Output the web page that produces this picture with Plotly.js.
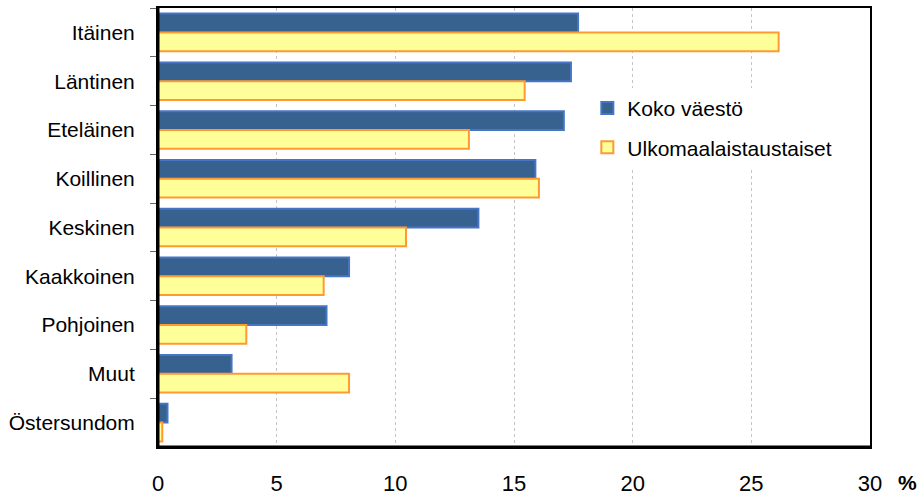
<!DOCTYPE html>
<html>
<head>
<meta charset="utf-8">
<script src="https://cdn.plot.ly/plotly-3.0.1.min.js"></script>
<style>html,body{margin:0;padding:0;background:#fff;}#chart{width:919px;height:498px;}</style>
</head>
<body>
<div id="chart"></div>
<script>
const categories = ["Itäinen","Läntinen","Eteläinen","Koillinen","Keskinen","Kaakkoinen","Pohjoinen","Muut","Östersundom"];
const kokoVaesto = [17.7, 17.4, 17.1, 15.9, 13.5, 8.05, 7.1, 3.1, 0.4];
const ulkomaalais = [26.15, 15.45, 13.1, 16.05, 10.45, 6.98, 3.72, 8.05, 0.18];
const seriesNames = ["Koko väestö", "Ulkomaalaistaustaiset"];
const xTicks = [0, 5, 10, 15, 20, 25, 30];

const font = "Liberation Sans, Arial, sans-serif";

const traces = [
  {
    type: "bar", orientation: "h", name: seriesNames[0],
    y: categories, x: kokoVaesto, legendgroup: "a",
    marker: {color: "#37618F", line: {color: "#4675C6", width: 2}}
  },
  {
    type: "bar", orientation: "h", name: seriesNames[1],
    y: categories, x: ulkomaalais, legendgroup: "b",
    marker: {color: "#FFFF99", line: {color: "#FF9A33", width: 2}}
  }
];

const layout = {
  width: 919, height: 498,
  margin: {l: 158, r: 49, t: 8, b: 51},
  paper_bgcolor: "#fff", plot_bgcolor: "#fff",
  barmode: "group", bargap: 0.23, bargroupgap: 0,
  font: {family: font, color: "#000", size: 21},
  showlegend: true,
  legend: {
    x: 0.603, y: 0.818, xanchor: "left", yanchor: "top",
    bgcolor: "#fff", font: {family: font, size: 21, color: "#000"},
    traceorder: "grouped", tracegroupgap: 9, itemwidth: 30
  },
  xaxis: {
    range: [0, 30], tickvals: xTicks, ticktext: xTicks.map(String),
    showgrid: true, gridcolor: "#c4c4c4", griddash: "dot", gridwidth: 1,
    zeroline: false, showline: true, mirror: true, linecolor: "#000", linewidth: 2,
    ticks: "", tickfont: {family: font, size: 22, color: "#000"},
    ticklabelstandoff: 16, fixedrange: true
  },
  yaxis: {
    type: "category", categoryorder: "array", categoryarray: categories,
    range: [8.5, -0.5],
    showgrid: false, zeroline: false, showline: true, mirror: true,
    linecolor: "#000", linewidth: 2,
    ticks: "outside", tickson: "boundaries", ticklen: 6, tickcolor: "#666", tickwidth: 1,
    tickfont: {family: font, size: 21, color: "#000"},
    ticklabelstandoff: 17, fixedrange: true
  },
  shapes: [
    {type: "line", xref: "paper", yref: "paper", x0: 0, x1: 0, y0: 0, y1: 1, line: {color: "#000", width: 3}},
    {type: "line", xref: "paper", yref: "paper", x0: 0, x1: 1, y0: 0, y1: 0, line: {color: "#000", width: 3}}
  ],
  annotations: [
    {xref: "paper", yref: "paper", x: 1.036, y: -0.08, xanchor: "left", yanchor: "middle",
     text: "<b>%</b>", showarrow: false, font: {family: font, size: 21, color: "#000"}}
  ]
};

Plotly.newPlot("chart", traces, layout, {displayModeBar: false, staticPlot: true});
</script>
</body>
</html>
